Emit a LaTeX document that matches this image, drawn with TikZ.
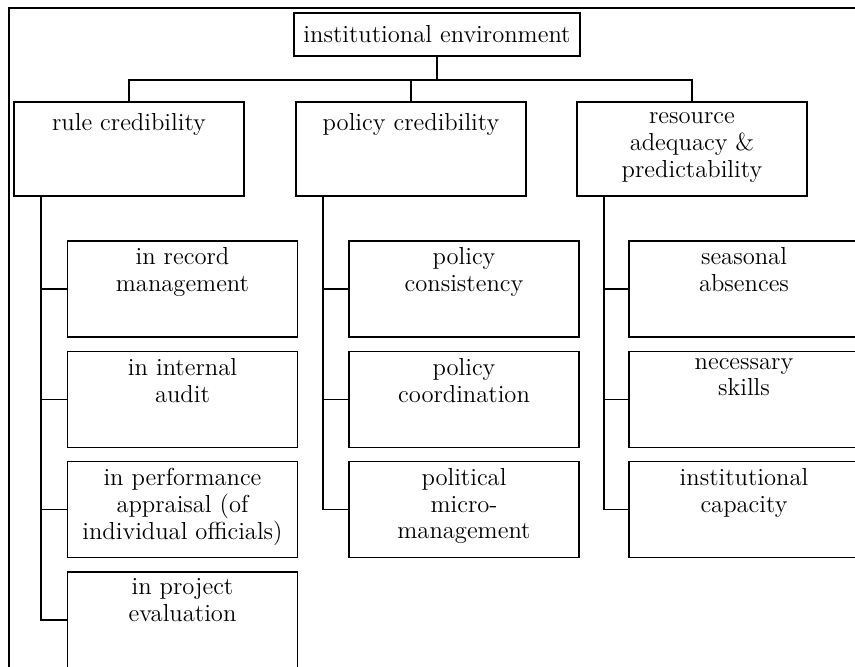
\documentclass[tikz,border=0pt]{standalone}
\usetikzlibrary{positioning, calc}
\newcommand{\boxfont}{\fontsize{14}{15.3}\selectfont}
\begin{document}
\begin{tikzpicture}[x=0.02cm, y=-0.02cm,
    link/.style={line width=0.9pt},
    frame/.style={draw, line width=0.9pt, minimum width=4.6cm, inner sep=0pt},
    head/.style={draw, line width=0.9pt, minimum width=5.72cm, minimum height=0.86cm,
                 inner sep=0pt, font=\boxfont},
    midbox/.style={frame, minimum height=1.88cm,
                   label={[anchor=north, align=center, font=\boxfont, inner sep=6.5pt]north:#1}},
    box/.style={frame, minimum height=1.92cm,
                label={[anchor=north, align=center, font=\boxfont, inner sep=4pt]north:#1}}
  ]
  \useasboundingbox (0,0) rectangle (855,666);
  \clip (0,0) rectangle (855,666);

  % outer frame (cut off at right and bottom)
  \draw[link] (9,8) rectangle (880,700);

  \node[head] (env) at (437,34.5) {institutional environment};

  \node[midbox={rule credibility}] (rule) at (129,149) {};
  \node[midbox={policy credibility}] (policy) at (411,149) {};
  \node[midbox={resource\\adequacy \&\\predictability}] (resrc) at (692,149) {};

  \foreach \n in {rule, policy, resrc}
    \draw[link] (env.south) -- ++(0,23) -| (\n.north);

  % rule credibility
  \node[box={in record\\management}] (record) at (182.5,289) {};
  \node[box={in internal\\audit}] (audit) at (182.5,399.5) {};
  \node[box={in performance\\appraisal (of\\individual officials)}] (apprais) at (182.5,509.5) {};
  \node[box={in project\\evaluation}] (project) at (182.5,620) {};

  % policy credibility
  \node[box={policy\\consistency}] (consist) at (464,289) {};
  \node[box={policy\\coordination}] (coord) at (464,399.5) {};
  \node[box={political\\micro-\\management}] (micro) at (464,509.5) {};

  % resource adequacy
  \node[box={seasonal\\absences}] (season) at (744,289) {};
  \node[box={necessary\\skills}] (skills) at (744,399.5) {};
  \node[box={institutional\\capacity}] (capac) at (744,509.5) {};

  \foreach \p/\c in {rule/record, rule/audit, rule/apprais, rule/project,
                     policy/consist, policy/coord, policy/micro,
                     resrc/season, resrc/skills, resrc/capac}
    \draw[link] ($(\p.south west)+(28,0)$) |- (\c.west);

\end{tikzpicture}
\end{document}
